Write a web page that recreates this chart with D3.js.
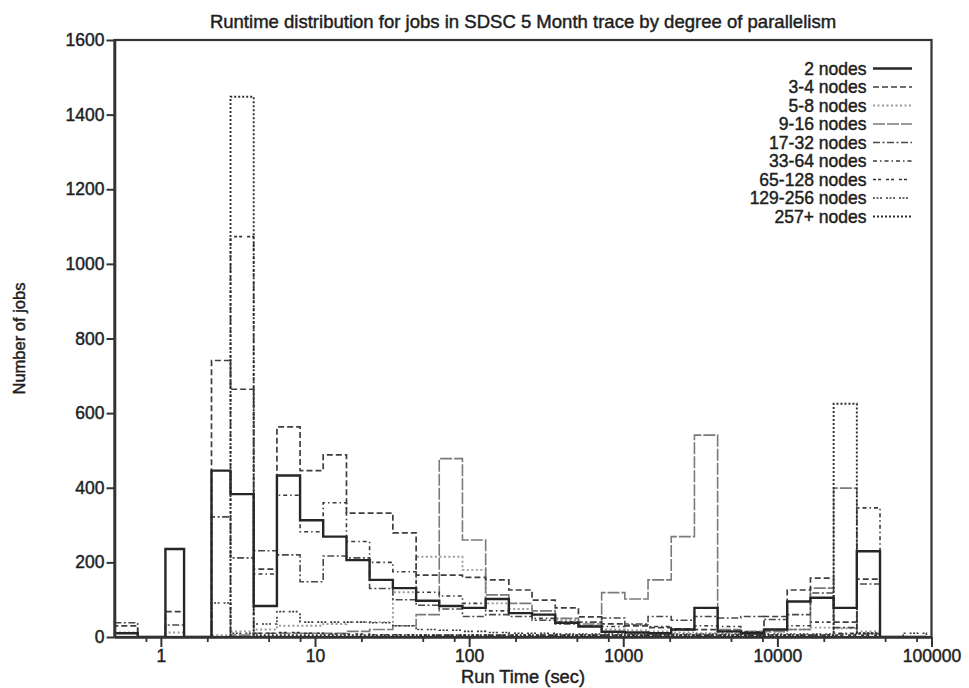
<!DOCTYPE html>
<html>
<head>
<meta charset="utf-8">
<script src="https://cdn.jsdelivr.net/npm/d3@7/dist/d3.min.js"></script>
<style>
  body { margin: 0; background: #fff; }
  text { font-family: "Liberation Sans", Arial, Helvetica, sans-serif; fill: #1e1e1e;
         stroke: #1e1e1e; stroke-width: 0.45px; }
</style>
</head>
<body>
<svg id="chart" width="969" height="688"></svg>
<script>
// Run-time bins (seconds), roughly sqrt(2) apart; one more edge than bins
const binEdges = [0.5, 0.707, 1.07, 1.414, 2.13, 2.83, 4, 5.66, 8, 11.3, 16, 22.6, 32, 45.3, 64, 90.5,
  128, 181, 256, 362, 512, 724, 1024, 1448, 2048, 2896, 4096, 5793, 8192, 11585, 16384, 23170,
  32768, 46341, 65536, 92682];

const seriesNames = ["2 nodes", "3-4 nodes", "5-8 nodes", "9-16 nodes", "17-32 nodes",
  "33-64 nodes", "65-128 nodes", "129-256 nodes", "257+ nodes"];

// Job counts per bin for each group of node counts
const nodes2 = [10, 0, 236, 0, 446, 383, 83, 433, 313, 269, 206, 153, 131, 97, 83, 78, 102, 64, 60, 38,
  28, 14, 12, 10, 20, 78, 15, 10, 20, 95, 105, 78, 230, 0, 0];
const nodes3to4 = [30, 0, 68, 0, 741, 664, 182, 563, 446, 488, 332, 332, 279, 166, 166, 160, 153, 126, 99, 78,
  54, 35, 30, 25, 22, 20, 15, 12, 55, 126, 158, 40, 155, 0, 0];
const nodes5to8 = [12, 0, 12, 0, 5, 15, 20, 30, 30, 35, 40, 40, 120, 215, 215, 180, 90, 75, 60, 45,
  30, 20, 18, 15, 12, 10, 12, 10, 14, 20, 25, 23, 15, 0, 0];
const nodes9to16 = [0, 0, 0, 0, 0, 5, 10, 10, 10, 10, 15, 20, 30, 60, 478, 260, 113, 90, 70, 50,
  35, 119, 102, 153, 269, 541, 20, 15, 15, 20, 131, 399, 10, 0, 0];
const nodes17to32 = [38, 0, 32, 0, 322, 212, 231, 220, 148, 217, 212, 130, 100, 85, 75, 55, 60, 55, 45, 35,
  40, 51, 35, 55, 45, 55, 51, 55, 47, 60, 118, 25, 142, 0, 0];
const nodes33to64 = [0, 0, 0, 0, 0, 0, 169, 380, 282, 360, 256, 200, 175, 120, 110, 90, 70, 65, 50, 40,
  30, 28, 32, 28, 19, 30, 28, 14, 20, 30, 40, 10, 346, 0, 0];
const nodes65to128 = [0, 0, 0, 0, 0, 1073, 10, 12, 10, 8, 8, 6, 6, 5, 5, 5, 5, 5, 5, 5,
  5, 5, 5, 5, 5, 5, 5, 5, 5, 5, 5, 5, 5, 0, 0];
const nodes129to256 = [0, 0, 0, 0, 91, 10, 35, 68, 40, 40, 40, 38, 30, 20, 18, 15, 12, 10, 10, 8,
  8, 8, 8, 8, 8, 8, 8, 8, 8, 8, 8, 8, 8, 0, 10];
const nodes257plus = [0, 0, 0, 0, 0, 1448, 5, 5, 5, 5, 5, 5, 5, 5, 5, 5, 5, 5, 5, 5,
  5, 5, 5, 5, 5, 5, 5, 5, 5, 5, 5, 625, 10, 0, 0];

const xTickValues = [1, 10, 100, 1000, 10000, 100000];
const xTickLabels = ["1", "10", "100", "1000", "10000", "100000"];
const xMinorTicks = [0.8, 2, 5, 8, 20, 50, 80, 200, 500, 800, 2000, 5000, 8000, 20000, 50000, 80000];
const yTickValues = [0, 200, 400, 600, 800, 1000, 1200, 1400, 1600];
const yTickLabels = ["0", "200", "400", "600", "800", "1000", "1200", "1400", "1600"];

const titleText = "Runtime distribution for jobs in SDSC 5 Month trace by degree of parallelism";
const xLabelText = "Run Time (sec)";
const yLabelText = "Number of jobs";

// line styles per group, in legend order
const seriesData = [nodes2, nodes3to4, nodes5to8, nodes9to16, nodes17to32,
  nodes33to64, nodes65to128, nodes129to256, nodes257plus];
const styles = [
  { stroke: "#262626", width: 2.4, dash: null },
  { stroke: "#3e3e3e", width: 1.7, dash: "6,3" },
  { stroke: "#9a9a9a", width: 1.9, dash: "2,2.5" },
  { stroke: "#7a7a7a", width: 1.6, dash: "12,2" },
  { stroke: "#4a4a4a", width: 1.6, dash: "7,2.5,2,2.5" },
  { stroke: "#3a3a3a", width: 1.6, dash: "4,3,1.5,3" },
  { stroke: "#333", width: 1.7, dash: "3,2,3,5" },
  { stroke: "#3a3a3a", width: 1.6, dash: "2,1.5,2,1.5,2,4" },
  { stroke: "#2e2e2e", width: 1.9, dash: "2,2" }
];

const svg = d3.select("#chart");
const plot = { left: 114.5, right: 931.5, top: 40, bottom: 637 };

const x = d3.scaleLog().domain([0.5, 100000]).range([plot.left, plot.right]);
const y = d3.scaleLinear().domain([0, 1600]).range([plot.bottom, plot.top]);

svg.append("defs").append("clipPath").attr("id", "plotClip")
  .append("rect")
  .attr("x", plot.left).attr("y", plot.top - 2)
  .attr("width", plot.right - plot.left).attr("height", plot.bottom - plot.top + 2);

// histogram outline: step up/down at every bin edge
function stepPoints(values) {
  const pts = [[binEdges[0], 0]];
  values.forEach((v, i) => {
    pts.push([binEdges[i], v]);
    pts.push([binEdges[i + 1], v]);
  });
  pts.push([binEdges[values.length], 0]);
  return pts;
}
const line = d3.line().x(d => x(d[0])).y(d => y(d[1]));

const marks = svg.append("g").attr("clip-path", "url(#plotClip)");
// lighter groups underneath, 2-node outline on top
const drawOrder = [2, 3, 4, 5, 6, 7, 8, 1, 0];
drawOrder.forEach(k => {
  const s = styles[k];
  marks.append("path")
    .attr("d", line(stepPoints(seriesData[k])))
    .attr("fill", "none")
    .attr("stroke", s.stroke)
    .attr("stroke-width", s.width)
    .attr("stroke-dasharray", s.dash)
    .attr("stroke-linejoin", "miter");
});

// frame
svg.append("rect")
  .attr("x", plot.left).attr("y", plot.top)
  .attr("width", plot.right - plot.left).attr("height", plot.bottom - plot.top)
  .attr("fill", "none").attr("stroke", "#333").attr("stroke-width", 2.2);

const tickFont = 17.5;

// y axis
const yAxis = svg.append("g").attr("transform", `translate(${plot.left},0)`)
  .call(d3.axisLeft(y).tickValues(yTickValues).tickSize(8).tickSizeOuter(0).tickPadding(2)
    .tickFormat((d, i) => yTickLabels[i]));
yAxis.select(".domain").attr("stroke", "#333").attr("stroke-width", 2.6);
yAxis.selectAll(".tick line").attr("stroke", "#333").attr("stroke-width", 2);
yAxis.selectAll(".tick text").attr("font-size", tickFont).attr("font-family", null);

// x axis, major and minor ticks
const xAxis = svg.append("g").attr("transform", `translate(0,${plot.bottom})`)
  .call(d3.axisBottom(x).tickValues(xTickValues).tickSize(10).tickSizeOuter(0).tickPadding(3)
    .tickFormat((d, i) => xTickLabels[i]));
xAxis.select(".domain").attr("stroke", "#333").attr("stroke-width", 2.6);
xAxis.selectAll(".tick line").attr("stroke", "#333").attr("stroke-width", 2);
xAxis.selectAll(".tick text").attr("font-size", tickFont).attr("font-family", null);
svg.selectAll(".tick text").attr("fill", "#1e1e1e");

const xMinor = svg.append("g").attr("transform", `translate(0,${plot.bottom})`)
  .call(d3.axisBottom(x).tickValues(xMinorTicks).tickSize(5).tickSizeOuter(0).tickFormat(""));
xMinor.select(".domain").remove();
xMinor.selectAll(".tick line").attr("stroke", "#333").attr("stroke-width", 1.8);

// scale a label's font so the text spans the given width
function fitWidth(sel, width) {
  const len = sel.node().getComputedTextLength();
  const fs = parseFloat(sel.attr("font-size"));
  sel.attr("font-size", (fs * width / len).toFixed(2));
  return sel;
}

// title and axis labels
const cx = (plot.left + plot.right) / 2;
fitWidth(svg.append("text").attr("x", cx).attr("y", 28)
  .attr("text-anchor", "middle").attr("font-size", 16).text(titleText), 627);
fitWidth(svg.append("text").attr("x", cx).attr("y", 683)
  .attr("text-anchor", "middle").attr("font-size", 16).text(xLabelText), 124);
fitWidth(svg.append("text")
  .attr("transform", `translate(25,${(plot.top + plot.bottom) / 2}) rotate(-90)`)
  .attr("text-anchor", "middle").attr("font-size", 16).text(yLabelText), 112);

// legend
const legend = svg.append("g");
const legendTexts = [];
seriesNames.forEach((name, i) => {
  const cy = 68.5 + i * 18.5;
  const s = styles[i];
  legendTexts.push(legend.append("text").attr("x", 866.5).attr("y", cy + 6)
    .attr("text-anchor", "end").attr("font-size", 16).text(name));
  legend.append("line")
    .attr("x1", 873).attr("x2", 912).attr("y1", cy).attr("y2", cy)
    .attr("stroke", s.stroke).attr("stroke-width", s.width)
    .attr("stroke-dasharray", s.dash);
});
// size legend entries so the longest label spans its measured width
const longest = legendTexts[7];
const scaleF = 117 / longest.node().getComputedTextLength();
legendTexts.forEach(t => t.attr("font-size", (16 * scaleF).toFixed(2)));
</script>
</body>
</html>
